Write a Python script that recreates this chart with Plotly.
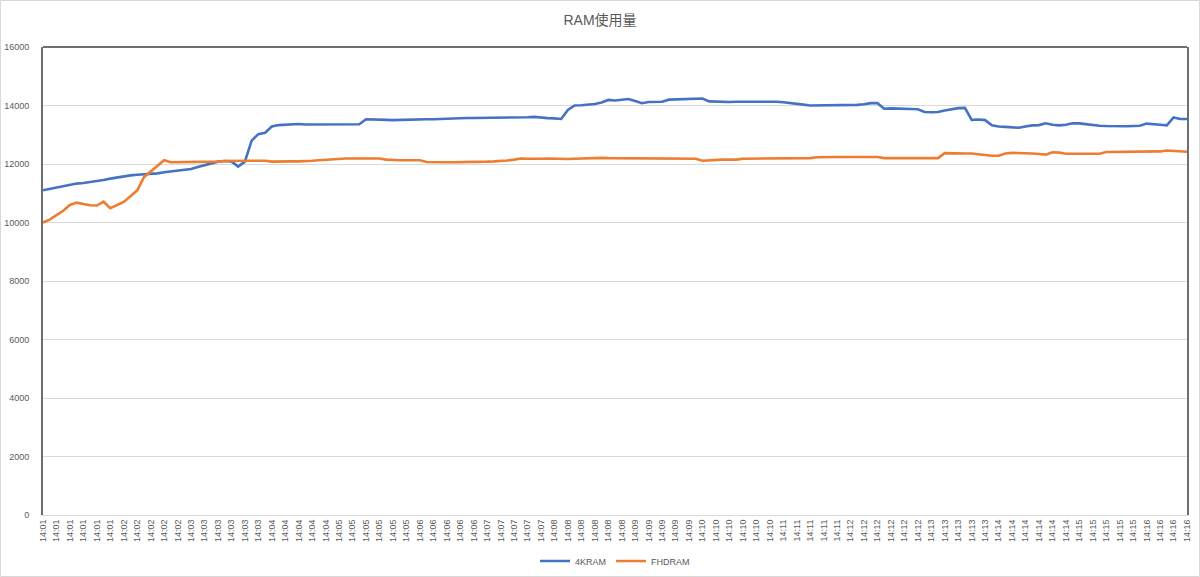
import numpy as np
import plotly.graph_objects as go

# ---- data -------------------------------------------------------------
title_text = "RAM使用量"
series_names = ["4KRAM", "FHDRAM"]

# tick labels (one per labelled category)
minute_counts = [("14:01", 6), ("14:02", 5), ("14:03", 6), ("14:04", 5),
                 ("14:05", 6), ("14:06", 5), ("14:07", 5), ("14:08", 6),
                 ("14:09", 5), ("14:10", 6), ("14:11", 5), ("14:12", 6),
                 ("14:13", 5), ("14:14", 6), ("14:15", 5), ("14:16", 4)]
tick_labels = [m for m, c in minute_counts for _ in range(c)]

# samples, two per labelled category
ram_4k = [
    11100, 11150, 11200, 11250, 11300, 11330, 11350, 11380, 11420, 11450,
    11500, 11540, 11580, 11610, 11630, 11640, 11650, 11680, 11720, 11750,
    11780, 11800, 11830, 11900, 11960, 12020, 12080, 12100, 12090, 11910,
    12080, 12800, 13020, 13070, 13280, 13330, 13350, 13370, 13370, 13350,
    13350, 13340, 13340, 13350, 13350, 13360, 13360, 13360, 13530, 13530,
    13510, 13510, 13500, 13510, 13520, 13530, 13530, 13530, 13530, 13540,
    13560, 13575, 13575, 13575, 13575, 13575, 13575, 13575, 13575, 13575,
    13575, 13575, 13600, 13610, 13580, 13570, 13560, 13540, 13850, 14000,
    14010, 14020, 14050, 14100, 14190, 14170, 14200, 14220, 14150, 14080,
    14120, 14130, 14130, 14200, 14210, 14210, 14210, 14220, 14240, 14140,
    14130, 14130, 14120, 14130, 14130, 14130, 14140, 14130, 14130, 14130,
    14110, 14090, 14070, 14030, 14000, 14000, 14000, 14000, 14000, 14000,
    14020, 14020, 14040, 14080, 14080, 13890, 13900, 13900, 13890, 13880,
    13870, 13780, 13770, 13780, 13830, 13880, 13910, 13920, 13510, 13520,
    13500, 13320, 13280, 13270, 13250, 13240, 13280, 13320, 13330, 13390,
    13340, 13320, 13340, 13390, 13390, 13360, 13320, 13310, 13300, 13290,
    13280, 13290, 13300, 13310, 13380, 13370, 13340, 13320, 13590, 13540,
    13540,
]
ram_fhd = [
    10000, 10100, 10250, 10400, 10600, 10680, 10630, 10590, 10580, 10710,
    10490, 10600, 10700, 10900, 11100, 11550, 11750, 11950, 12130, 12060,
    12060, 12060, 12060, 12060, 12060, 12060, 12080, 12100, 12110, 12110,
    12110, 12110, 12110, 12110, 12080, 12090, 12090, 12090, 12090, 12090,
    12110, 12130, 12150, 12170, 12180, 12190, 12190, 12190, 12190, 12190,
    12190, 12150, 12130, 12130, 12130, 12130, 12130, 12070, 12060, 12060,
    12060, 12060, 12060, 12060, 12060, 12070, 12080, 12090, 12100, 12120,
    12150, 12190, 12180, 12170, 12180, 12190, 12180, 12170, 12170, 12180,
    12190, 12200, 12200, 12210, 12200, 12200, 12200, 12200, 12200, 12200,
    12180, 12180, 12180, 12180, 12180, 12180, 12180, 12180, 12110, 12130,
    12150, 12150, 12150, 12150, 12180, 12180, 12180, 12180, 12180, 12180,
    12180, 12180, 12180, 12180, 12200, 12230, 12240, 12240, 12240, 12240,
    12240, 12240, 12240, 12240, 12240, 12200, 12200, 12200, 12200, 12200,
    12200, 12200, 12200, 12200, 12370, 12360, 12360, 12360, 12360, 12330,
    12290, 12280, 12280, 12360, 12380, 12380, 12380, 12360, 12340, 12320,
    12400, 12390, 12350, 12350, 12350, 12350, 12350, 12350, 12410, 12410,
    12410, 12410, 12410, 12410, 12410, 12410, 12430, 12460, 12440, 12420,
    12420,
]
y_ticks = [0, 2000, 4000, 6000, 8000, 10000, 12000, 14000, 16000]

# ---- figure -----------------------------------------------------------
samples_per_label = 2
x_4k = np.arange(len(ram_4k)) / samples_per_label
x_fhd = np.arange(len(ram_fhd)) / samples_per_label

BLUE = "#4472C4"
ORANGE = "#ED7D31"
TXT = "#595959"
GRID = "#D9D9D9"
FONT = "Liberation Sans, Arial, Noto Sans CJK JP, sans-serif"

fig = go.Figure()
fig.add_trace(go.Scatter(x=x_4k, y=ram_4k, mode="lines", name=series_names[0],
                         line=dict(color=BLUE, width=2.6)))
fig.add_trace(go.Scatter(x=x_fhd, y=ram_fhd, mode="lines", name=series_names[1],
                         line=dict(color=ORANGE, width=2.6)))

W, H = 1200, 577
ml, mr, mt, mb = 43, 13, 47, 62
pw, ph = W - ml - mr, H - mt - mb

fig.update_layout(
    width=W, height=H,
    margin=dict(l=ml, r=mr, t=mt, b=mb, autoexpand=False),
    paper_bgcolor="white", plot_bgcolor="white",
    font=dict(family=FONT, size=9, color=TXT),
    title=dict(text=title_text, x=0.5, xanchor="center",
               yref="container", y=1 - 20 / H,
               yanchor="middle", font=dict(size=14, color=TXT)),
    showlegend=True,
    legend=dict(orientation="h", x=0.5, xanchor="center",
                yref="container", y=(H - 561) / H,
                yanchor="middle", font=dict(size=9, color=TXT),
                itemwidth=30, bgcolor="rgba(0,0,0,0)"),
    xaxis=dict(
        range=[0, (len(ram_4k) - 1) / samples_per_label],
        tickmode="array",
        tickvals=list(range(len(tick_labels))),
        ticktext=tick_labels,
        tickangle=-90,
        showgrid=False, zeroline=False,
        showline=True, linecolor=GRID, linewidth=1,
        ticks="", tickfont=dict(size=9, color=TXT),
        automargin=False,
    ),
    yaxis=dict(
        range=[0, 16000], tickmode="array", tickvals=y_ticks,
        tickformat="d",
        showgrid=True, gridcolor=GRID, gridwidth=1,
        zeroline=False, showline=True, mirror=True,
        linecolor="#6E6E6E", linewidth=2,
        ticks="", ticklabelstandoff=10,
        tickfont=dict(size=9, color=TXT),
        automargin=False,
    ),
)

# dark top border of the plot area
fig.add_shape(type="line", xref="paper", yref="paper", x0=0, x1=1, y0=1, y1=1,
              line=dict(color="#6E6E6E", width=2))
# light outer chart border
fig.add_shape(type="rect", xref="paper", yref="paper",
              x0=-(ml - 0.5) / pw, x1=1 + (mr - 0.5) / pw,
              y0=-(mb - 0.5) / ph, y1=1 + (mt - 0.5) / ph,
              line=dict(color=GRID, width=1), layer="below")

# remove the default page margin so the figure fills the window exactly
fig.write_html("out.html",
               config={"displayModeBar": False},
               post_script="document.body.style.margin='0';")
